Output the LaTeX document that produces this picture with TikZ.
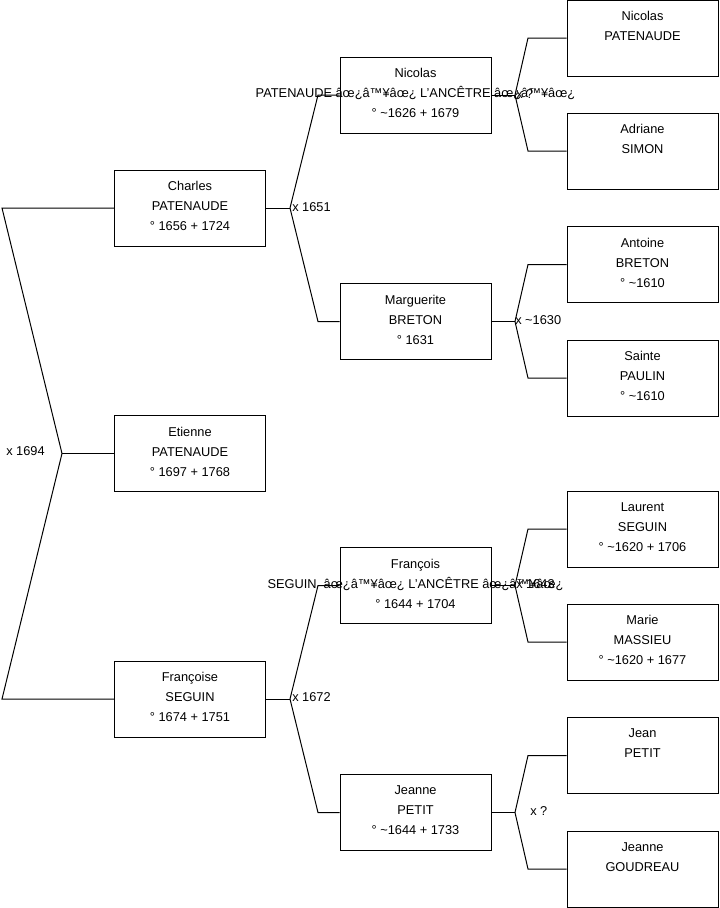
\documentclass[tikz,border=0pt]{standalone}
\usepackage{fontspec}
\setmainfont{Liberation Sans}
\tikzset{
  personbox/.style={draw, line width=0.75pt, minimum width=113.25pt, minimum height=57pt, inner sep=0pt},
  persontext/.style={align=center, font=\fontsize{9.6}{15}\selectfont, inner sep=0pt, yshift=1.5pt},
  wedding/.style={anchor=west, font=\fontsize{9.6}{12}\selectfont, inner sep=0pt},
  link/.style={line width=0.75pt}
}
\begin{document}
\begin{tikzpicture}[x=0.75pt, y=-0.75pt]
    \useasboundingbox (0,0) rectangle (719,908);

    % Generation 0
    \node[personbox] (etienne) at (190,453.5) {};
    \node[persontext] (etienne-t) at (etienne) {Etienne\\PATENAUDE\\° 1697 + 1768};

    % Parents
    \node[personbox] (charles) at (190,208) {};
    \node[persontext] (charles-t) at (charles) {Charles\\PATENAUDE\\° 1656 + 1724};
    \node[personbox] (francoise) at (190,699) {};
    \node[persontext] (francoise-t) at (francoise) {Françoise\\SEGUIN\\° 1674 + 1751};

    % Grandparents
    \node[personbox] (nicolas) at (415.5,95) {};
    \node[persontext] (nicolas-t) at (nicolas) {Nicolas\\PATENAUDE âœ¿â™¥âœ¿ L'ANCÊTRE âœ¿â™¥âœ¿\\° \textasciitilde 1626 + 1679};
    \node[personbox] (marguerite) at (415.5,321.5) {};
    \node[persontext] (marguerite-t) at (marguerite) {Marguerite\\BRETON\\° 1631};
    \node[personbox] (francois) at (415.5,585.5) {};
    \node[persontext] (francois-t) at (francois) {François\\SEGUIN\ \ âœ¿â™¥âœ¿ L'ANCÊTRE âœ¿â™¥âœ¿\\° 1644 + 1704};
    \node[personbox] (jeanne) at (415.5,812.5) {};
    \node[persontext] (jeanne-t) at (jeanne) {Jeanne\\PETIT\\° \textasciitilde 1644 + 1733};

    % Great-grandparents
    \node[personbox] (nicolasp) at (642.5,38) {};
    \node[persontext] (nicolasp-t) at (nicolasp) {Nicolas\\PATENAUDE\\\mbox{}};
    \node[personbox] (adriane) at (642.5,151) {};
    \node[persontext] (adriane-t) at (adriane) {Adriane\\SIMON\\\mbox{}};
    \node[personbox] (antoine) at (642.5,264.5) {};
    \node[persontext] (antoine-t) at (antoine) {Antoine\\BRETON\\° \textasciitilde 1610};
    \node[personbox] (sainte) at (642.5,378) {};
    \node[persontext] (sainte-t) at (sainte) {Sainte\\PAULIN\\° \textasciitilde 1610};
    \node[personbox] (laurent) at (642.5,529) {};
    \node[persontext] (laurent-t) at (laurent) {Laurent\\SEGUIN\\° \textasciitilde 1620 + 1706};
    \node[personbox] (marie) at (642.5,642) {};
    \node[persontext] (marie-t) at (marie) {Marie\\MASSIEU\\° \textasciitilde 1620 + 1677};
    \node[personbox] (jean) at (642.5,755.5) {};
    \node[persontext] (jean-t) at (jean) {Jean\\PETIT\\\mbox{}};
    \node[personbox] (jeanneg) at (642.5,869) {};
    \node[persontext] (jeanneg-t) at (jeanneg) {Jeanne\\GOUDREAU\\\mbox{}};

    % Junction points
    \coordinate (j0) at (62,453.5);
    \coordinate (j0a) at (2,208);
    \coordinate (j0b) at (2,699);
    \coordinate (j1) at (290,208);
    \coordinate (j1a) at (318,95);
    \coordinate (j1b) at (318,321.5);
    \coordinate (j2) at (290,699);
    \coordinate (j2a) at (318,585.5);
    \coordinate (j2b) at (318,812.5);
    \coordinate (j3) at (515,95);
    \coordinate (j3a) at (528,38);
    \coordinate (j3b) at (528,151);
    \coordinate (j4) at (515,321.5);
    \coordinate (j4a) at (528,264.5);
    \coordinate (j4b) at (528,378);
    \coordinate (j5) at (515,585.5);
    \coordinate (j5a) at (528,529);
    \coordinate (j5b) at (528,642);
    \coordinate (j6) at (515,812.5);
    \coordinate (j6a) at (528,755.5);
    \coordinate (j6b) at (528,869);

    % Connectors
    \draw[link] (etienne.west) -- (j0);
    \draw[link] (j0) -- (j0a) -- (charles.west);
    \draw[link] (j0) -- (j0b) -- (francoise.west);
    \draw[link] (charles.east) -- (j1);
    \draw[link] (j1) -- (j1a) -- (nicolas.west);
    \draw[link] (j1) -- (j1b) -- (marguerite.west);
    \draw[link] (francoise.east) -- (j2);
    \draw[link] (j2) -- (j2a) -- (francois.west);
    \draw[link] (j2) -- (j2b) -- (jeanne.west);
    \draw[link] (nicolas.east) -- (j3);
    \draw[link] (j3) -- (j3a) -- (nicolasp.west);
    \draw[link] (j3) -- (j3b) -- (adriane.west);
    \draw[link] (marguerite.east) -- (j4);
    \draw[link] (j4) -- (j4a) -- (antoine.west);
    \draw[link] (j4) -- (j4b) -- (sainte.west);
    \draw[link] (francois.east) -- (j5);
    \draw[link] (j5) -- (j5a) -- (laurent.west);
    \draw[link] (j5) -- (j5b) -- (marie.west);
    \draw[link] (jeanne.east) -- (j6);
    \draw[link] (j6) -- (j6a) -- (jean.west);
    \draw[link] (j6) -- (j6b) -- (jeanneg.west);

    % Marriages
    \node[wedding] (m0) at (6,451.5) {x 1694};
    \node[wedding] (m1) at (292,207) {x 1651};
    \node[wedding] (m2) at (292,697.5) {x 1672};
    \node[wedding] (m3) at (516,94) {x ?};
    \node[wedding] (m4) at (515,320.5) {x \textasciitilde 1630};
    \node[wedding] (m5) at (516,584.5) {x 1643};
    \node[wedding] (m6) at (530,811) {x ?};
\end{tikzpicture}
\end{document}
